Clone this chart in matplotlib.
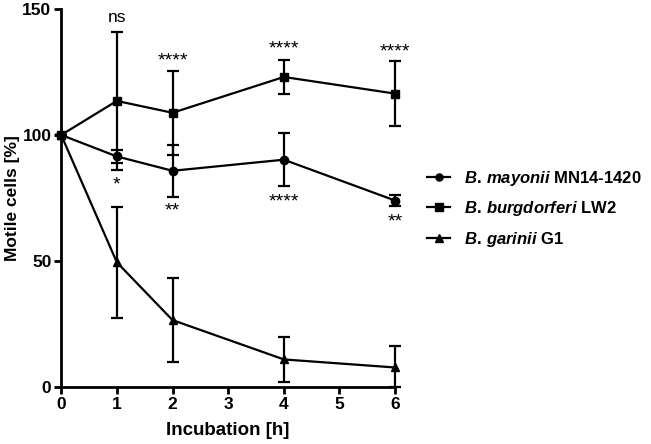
import matplotlib
matplotlib.use('Agg')
import matplotlib.pyplot as plt
import numpy as np

plt.rcParams['font.family'] = ['Liberation Sans', 'DejaVu Sans']
plt.rcParams['mathtext.fontset'] = 'custom'
plt.rcParams['mathtext.it'] = 'Liberation Sans:italic:bold'
plt.rcParams['mathtext.rm'] = 'Liberation Sans:bold'

# data
hours = [0, 1, 2, 4, 6]

mayonii = [100, 91.5, 85.8, 90.2, 74.0]
mayonii_err = [0, 2.5, 10.3, 10.4, 2.2]

burgdorferi = [100, 113.5, 108.8, 123.0, 116.4]
burgdorferi_err = [0, 27.5, 16.6, 6.6, 13.0]

garinii = [100, 49.5, 26.6, 11.0, 7.8]
garinii_err = [0, 22.0, 16.5, 8.8, 8.6]
garinii_err_low = [0, 22.0, 16.5, 8.8, 7.8]

labels = [r'$\mathit{B.\,mayonii}$ MN14-1420',
          r'$\mathit{B.\,burgdorferi}$ LW2',
          r'$\mathit{B.\,garinii}$ G1']

# significance marks: (x, y, text)
sig_top = [(1, 146.5, 'ns'), (2, 129.5, '****'), (4, 134.0, '****'), (6, 133.0, '****')]
sig_bottom = [(1, 80.0, '*'), (2, 70.0, '**'), (4, 73.5, '****'), (6, 65.5, '**')]

fig = plt.figure(figsize=(6.51, 4.44), dpi=100)
ax = fig.add_axes([0.094, 0.128, 0.513, 0.852])

style = dict(color='black', lw=1.6, capsize=4, capthick=1.6, elinewidth=1.6,
             markersize=6, clip_on=False)
h1 = ax.errorbar(hours, mayonii, yerr=mayonii_err, marker='o', label=labels[0], **style)
h2 = ax.errorbar(hours, burgdorferi, yerr=burgdorferi_err, marker='s', label=labels[1], **style)
h3 = ax.errorbar(hours, garinii, yerr=[garinii_err_low, garinii_err], marker='^',
                 label=labels[2], **style)

for x, y, t in sig_top:
    if t == 'ns':
        ax.text(x, y, t, ha='center', va='center', fontsize=12.5)
    else:
        ax.text(x, y, t, ha='center', va='center', fontsize=14)
for x, y, t in sig_bottom:
    ax.text(x, y, t, ha='center', va='center', fontsize=14)

ax.set_xlim(0, 6)
ax.set_ylim(0, 150)
ax.set_xticks(range(0, 7))
ax.set_yticks([0, 50, 100, 150])
for s in ['top', 'right']:
    ax.spines[s].set_visible(False)
for s in ['left', 'bottom']:
    ax.spines[s].set_linewidth(2)
ax.tick_params(width=2, length=5, labelsize=12.5, pad=2)
for lab in ax.get_xticklabels() + ax.get_yticklabels():
    lab.set_fontweight('bold')
ax.set_xlabel('Incubation [h]', fontsize=13.5, fontweight='bold', labelpad=7)
ax.set_ylabel('Motile cells [%]', fontsize=12.5, fontweight='bold', labelpad=2)

handles = [h1[0], h2[0], h3[0]]
leg = fig.legend(handles, labels, loc='center left', bbox_to_anchor=(0.633, 0.53),
                 frameon=False, fontsize=12, handlelength=1.4, handletextpad=0.8,
                 labelspacing=0.7, markerscale=0.85)
for t in leg.get_texts():
    t.set_fontweight('bold')

fig.savefig('out.png', dpi=100)
